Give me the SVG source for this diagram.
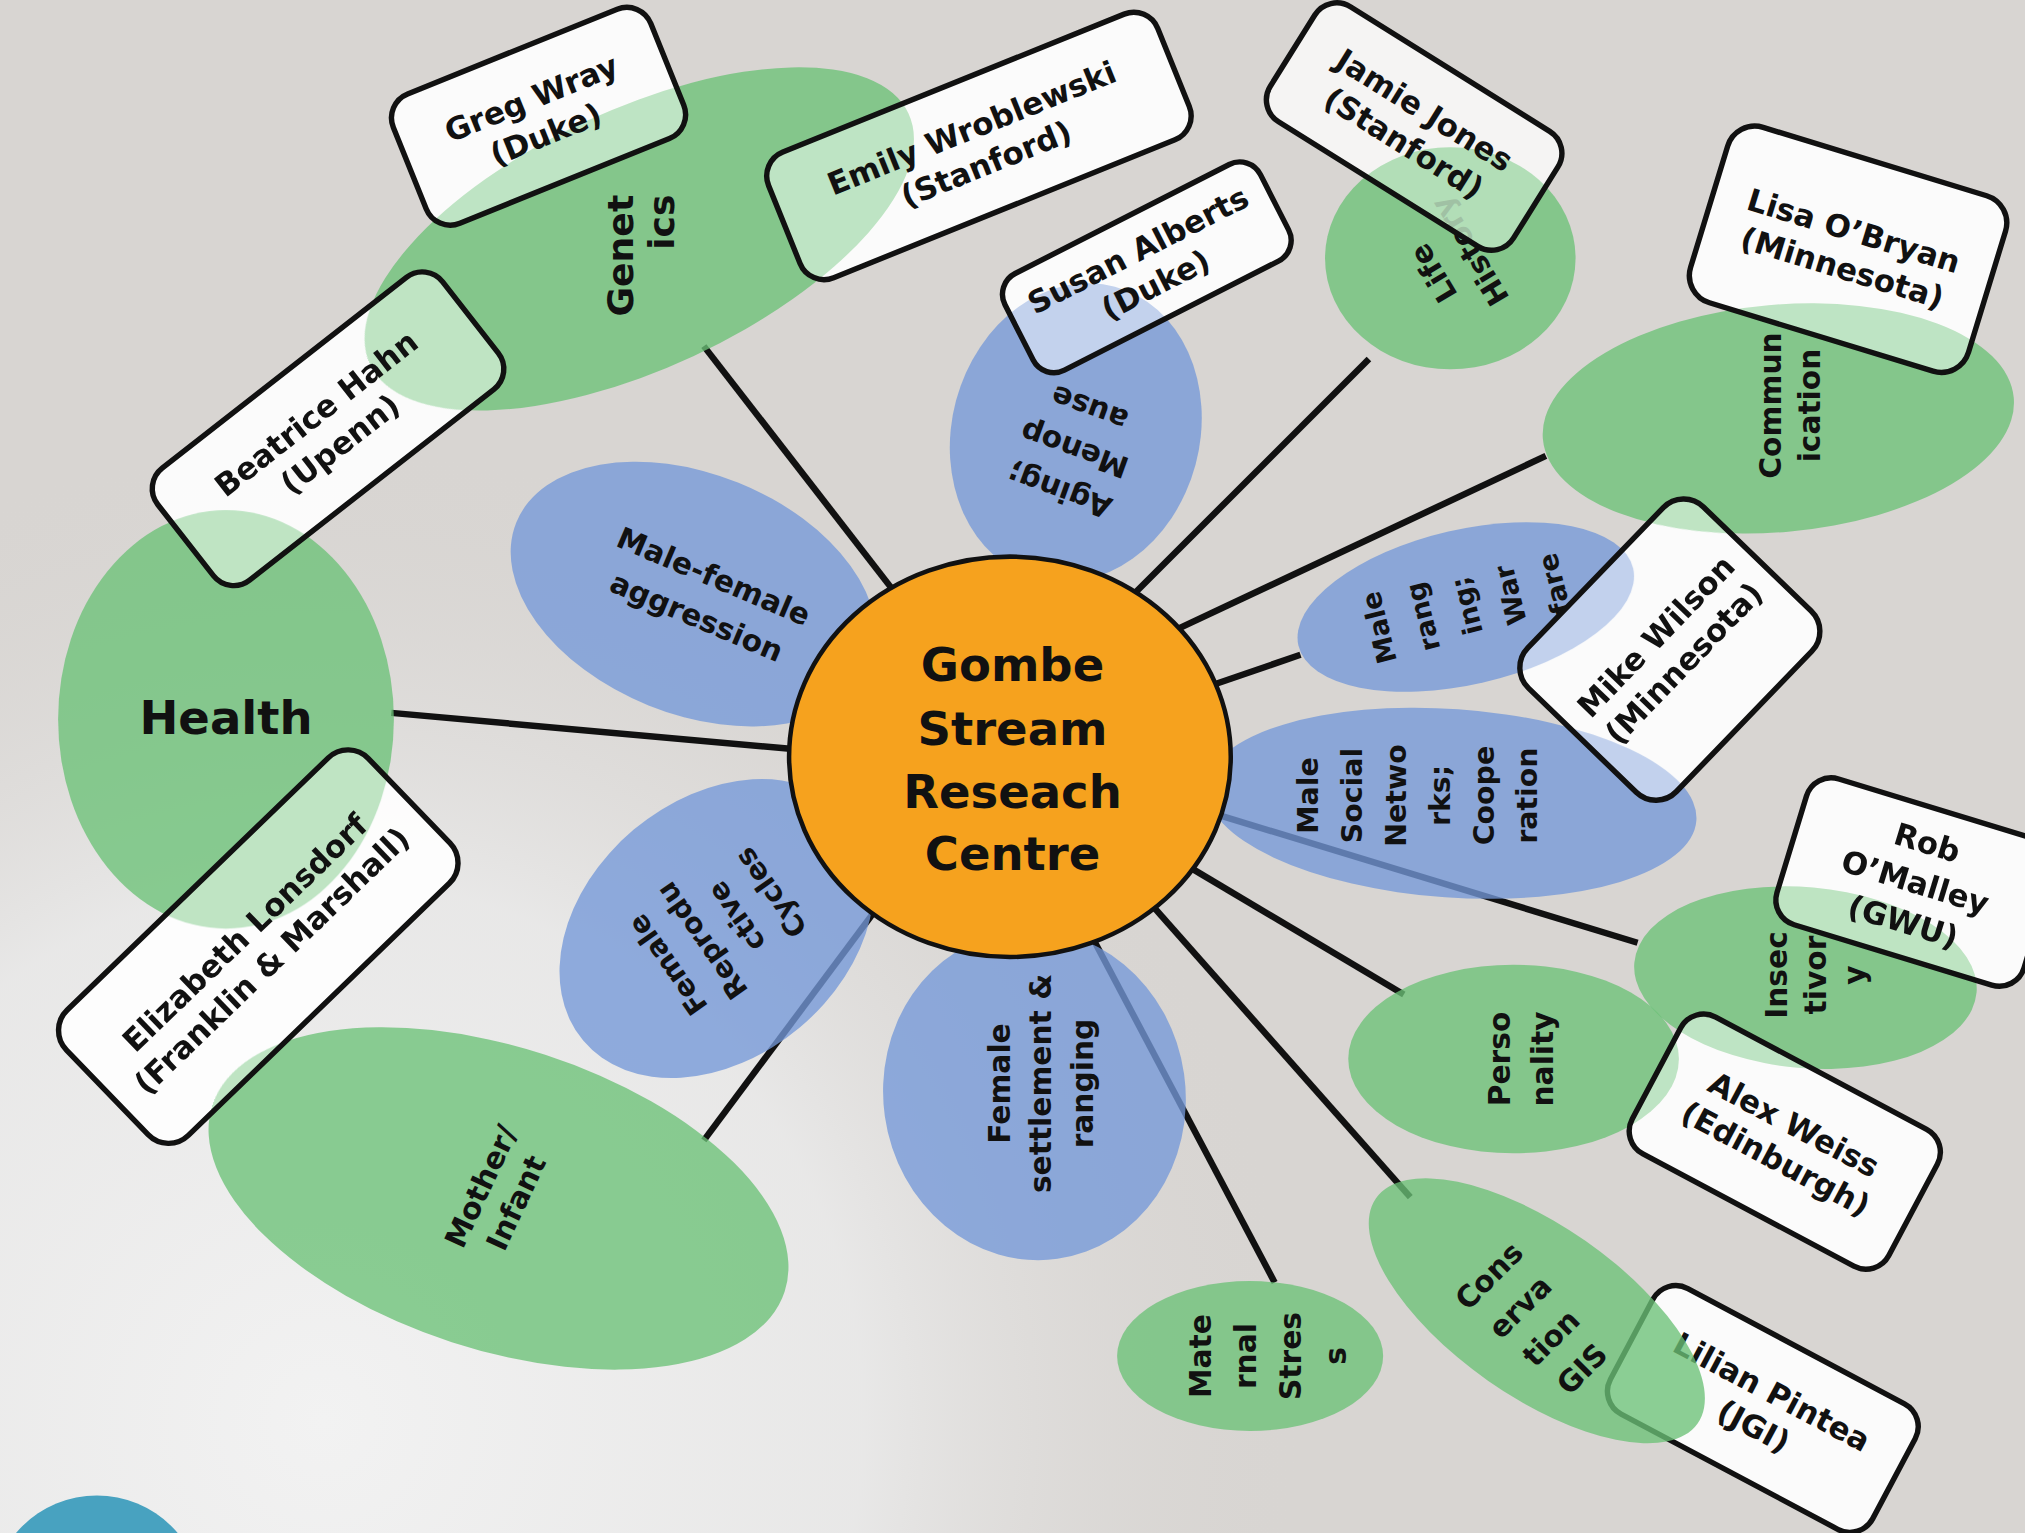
<svg xmlns="http://www.w3.org/2000/svg" xmlns:xlink="http://www.w3.org/1999/xlink" width="2025" height="1533" viewBox="0 0 2025 1533">
<style>
.ln{stroke:#111;stroke-width:5;fill:none}
.g{fill:#6cc277;fill-opacity:.78}
.b{fill:#7498d8;fill-opacity:.78}
.bf{fill:#fff;fill-opacity:.9;stroke:none}
.bs{fill:none;stroke:#111;stroke-width:4.2}
.ov{opacity:.5}
.t{font-family:"DejaVu Sans","Liberation Sans",sans-serif;font-weight:bold;font-size:23px;fill:#111;text-anchor:middle}
.p{font-family:"DejaVu Sans","Liberation Sans",sans-serif;font-weight:bold;font-size:24px;fill:#111;text-anchor:middle}
.c{font-family:"DejaVu Sans","Liberation Sans",sans-serif;font-weight:bold;font-size:36px;fill:#111;text-anchor:middle}
</style>
<defs>
<radialGradient id="glow" gradientUnits="userSpaceOnUse" cx="250" cy="1100" r="760">
<stop offset="0" stop-color="#f2f2f2" stop-opacity="1"/>
<stop offset="0.55" stop-color="#ebebeb" stop-opacity="0.85"/>
<stop offset="1" stop-color="#d8d5d2" stop-opacity="0"/>
</radialGradient>
<ellipse id="e-gen" cx="495" cy="185" rx="230" ry="100" transform="rotate(-25 495 185)"/>
<ellipse id="e-health" cx="175" cy="557" rx="130" ry="162"/>
<ellipse id="e-mother" cx="386" cy="928" rx="233" ry="117" transform="rotate(18 386 928)"/>
<ellipse id="e-mat" cx="968" cy="1050" rx="103" ry="58"/>
<ellipse id="e-cons" cx="1190" cy="1015" rx="152" ry="66" transform="rotate(35 1190 1015)"/>
<ellipse id="e-pers" cx="1172" cy="820" rx="128" ry="73"/>
<ellipse id="e-insec" cx="1398" cy="757" rx="133" ry="70" transform="rotate(5 1398 757)"/>
<ellipse id="e-comm" cx="1377" cy="324" rx="183" ry="88" transform="rotate(-5 1377 324)"/>
<ellipse id="e-life" cx="1123" cy="200" rx="97" ry="86"/>
<ellipse id="e-agg" cx="537" cy="460" rx="148" ry="93" transform="rotate(22 537 460)"/>
<ellipse id="e-aging" cx="833" cy="335" rx="96" ry="117" transform="rotate(15 833 335)"/>
<ellipse id="e-range" cx="1135" cy="470" rx="133" ry="60" transform="rotate(-13 1135 470)"/>
<ellipse id="e-social" cx="1124" cy="622" rx="190" ry="73" transform="rotate(4 1124 622)"/>
<ellipse id="e-repro" cx="555" cy="719" rx="135" ry="100" transform="rotate(-40 555 719)"/>
<ellipse id="e-settle" cx="801" cy="848" rx="117" ry="128" transform="rotate(-8 801 848)"/>
<rect id="r-greg" x="-107.5" y="-54" width="215" height="108" rx="20" transform="translate(417 90) rotate(-22)"/>
<rect id="r-beat" x="-140" y="-55" width="280" height="110" rx="20" transform="translate(254 332) rotate(-38)"/>
<rect id="r-emily" x="-162.5" y="-52.5" width="325" height="105" rx="20" transform="translate(758 113) rotate(-22)"/>
<rect id="r-susan" x="-111" y="-42" width="222" height="84" rx="18" transform="translate(888 207) rotate(-27)"/>
<rect id="r-jamie" x="-111" y="-52.5" width="222" height="105" rx="20" transform="translate(1095 98) rotate(32)"/>
<rect id="r-lisa" x="-112.5" y="-71" width="225" height="142" rx="22" transform="translate(1431 193) rotate(17)"/>
<rect id="r-mike" x="-97.5" y="-80" width="195" height="160" rx="22" transform="translate(1293 503) rotate(-46)"/>
<rect id="r-rob" x="-100" y="-59" width="200" height="118" rx="20" transform="translate(1483 683) rotate(17)"/>
<rect id="r-alex" x="-112.5" y="-60" width="225" height="120" rx="20" transform="translate(1382 884) rotate(28)"/>
<rect id="r-lilian" x="-115" y="-55" width="230" height="110" rx="20" transform="translate(1365 1091) rotate(28)"/>
<rect id="r-eliz" x="-162.5" y="-67.5" width="325" height="135" rx="22" transform="translate(200 733) rotate(-44)"/>
<clipPath id="c-greg"><use xlink:href="#r-greg"/></clipPath>
<clipPath id="c-beat"><use xlink:href="#r-beat"/></clipPath>
<clipPath id="c-emily"><use xlink:href="#r-emily"/></clipPath>
<clipPath id="c-susan"><use xlink:href="#r-susan"/></clipPath>
<clipPath id="c-jamie"><use xlink:href="#r-jamie"/></clipPath>
<clipPath id="c-lisa"><use xlink:href="#r-lisa"/></clipPath>
<clipPath id="c-mike"><use xlink:href="#r-mike"/></clipPath>
<clipPath id="c-rob"><use xlink:href="#r-rob"/></clipPath>
<clipPath id="c-alex"><use xlink:href="#r-alex"/></clipPath>
<clipPath id="c-eliz"><use xlink:href="#r-eliz"/></clipPath>
</defs>
<g transform="scale(1.29145)">
<rect x="0" y="0" width="1568" height="1188" fill="#d8d5d2"/>
<rect x="0" y="0" width="1568" height="1188" fill="url(#glow)"/>
<circle cx="75" cy="1240" r="82" fill="#48a2c0"/>

<g id="connectors">
<line class="ln" x1="545" y1="268" x2="690" y2="455"/>
<line class="ln" x1="303" y1="552" x2="614" y2="580"/>
<line class="ln" x1="545" y1="883" x2="683" y2="698"/>
<line class="ln" x1="987" y1="993" x2="848" y2="730"/>
<line class="ln" x1="1092" y1="927" x2="893" y2="702"/>
<line class="ln" x1="1087" y1="770" x2="922" y2="672"/>
<line class="ln" x1="1268" y1="730" x2="940" y2="630"/>
<line class="ln" x1="1007" y1="507" x2="940" y2="530"/>
<line class="ln" x1="1197" y1="353" x2="912" y2="487"/>
<line class="ln" x1="1060" y1="278" x2="878" y2="460"/>
</g>

<g id="genetics"><use xlink:href="#e-gen" class="g"/>
<text class="t" style="font-size:28px" transform="translate(496 185) rotate(-90)"><tspan x="-13" y="-6">Genet</tspan><tspan x="13" y="26">ics</tspan></text></g>
<g id="health"><use xlink:href="#e-health" class="g"/>
<text class="c" x="175" y="568">Health</text></g>
<g id="mother-infant"><use xlink:href="#e-mother" class="g"/>
<text class="t" transform="translate(386 925) rotate(-65)"><tspan x="0" y="-7">Mother/</tspan><tspan x="0" y="23">Infant</tspan></text></g>
<g id="maternal-stress"><use xlink:href="#e-mat" class="g"/>
<text class="t" transform="translate(982 1050) rotate(-90)"><tspan x="0" y="-44.5">Mate</tspan><tspan x="0" y="-9.5">rnal</tspan><tspan x="0" y="25.5">Stres</tspan><tspan x="0" y="60.5">s</tspan></text></g>
<g id="personality"><use xlink:href="#e-pers" class="g"/>
<text class="t" transform="translate(1178 820) rotate(-90)"><tspan x="0" y="-8.5">Perso</tspan><tspan x="0" y="24.5">nality</tspan></text></g>
<g id="insectivory"><use xlink:href="#e-insec" class="g"/>
<text class="t" transform="translate(1406 755) rotate(-90)"><tspan x="0" y="-22">Insec</tspan><tspan x="0" y="8">tivor</tspan><tspan x="0" y="38">y</tspan></text></g>
<g id="communication"><use xlink:href="#e-comm" class="g"/>
<text class="t" transform="translate(1386 314) rotate(-90)"><tspan x="0" y="-7">Commun</tspan><tspan x="0" y="23">ication</tspan></text></g>
<g id="life-history"><use xlink:href="#e-life" class="g"/>
<text class="t" transform="translate(1124 203) rotate(239)"><tspan x="0" y="-8.5">Life</tspan><tspan x="0" y="24.5">History</tspan></text></g>

<g id="male-female-aggression"><use xlink:href="#e-agg" class="b"/>
<text class="t" transform="translate(546 462) rotate(23)"><tspan x="0" y="-9">Male-female</tspan><tspan x="0" y="25">aggression</tspan></text></g>
<g id="aging-menopause"><use xlink:href="#e-aging" class="b"/>
<text class="t" transform="translate(832 348) rotate(200)"><tspan x="0" y="-26">Aging;</tspan><tspan x="0" y="8">Menop</tspan><tspan x="0" y="42">ause</tspan></text></g>
<g id="male-ranging-warfare"><use xlink:href="#e-range" class="b"/>
<text class="t" style="font-size:21px" transform="translate(1136 469) rotate(-104)"><tspan x="0" y="-63">Male</tspan><tspan x="0" y="-28">rang</tspan><tspan x="0" y="7">ing;</tspan><tspan x="0" y="42">War</tspan><tspan x="0" y="77">fare</tspan></text></g>
<g id="male-social-networks"><use xlink:href="#e-social" class="b"/>
<text class="t" style="font-size:22px" transform="translate(1098 616) rotate(-90)"><tspan x="0" y="-77.5">Male</tspan><tspan x="0" y="-43.5">Social</tspan><tspan x="0" y="-9.5">Netwo</tspan><tspan x="0" y="24.5">rks;</tspan><tspan x="0" y="58.5">Coope</tspan><tspan x="0" y="92.5">ration</tspan></text></g>
<g id="female-reproductive-cycles"><use xlink:href="#e-repro" class="b"/>
<text class="t" style="font-size:22px" transform="translate(557 719) rotate(235)"><tspan x="0" y="-41.25">Female</tspan><tspan x="0" y="-8.75">Reprodu</tspan><tspan x="0" y="23.75">ctive</tspan><tspan x="0" y="56.25">Cycles</tspan></text></g>
<g id="female-settlement-ranging"><use xlink:href="#e-settle" class="b"/>
<text class="t" transform="translate(806 839) rotate(-90)"><tspan x="0" y="-24">Female</tspan><tspan x="0" y="8">settlement &amp;</tspan><tspan x="0" y="40">ranging</tspan></text></g>

<g id="centre">
<ellipse cx="782" cy="586" rx="171" ry="155" fill="#f6a21e" stroke="#111" stroke-width="3.5"/>
<text class="c" x="784" y="527">Gombe</text>
<text class="c" x="784" y="577">Stream</text>
<text class="c" x="784" y="626">Reseach</text>
<text class="c" x="784" y="674">Centre</text>
</g>

<g id="greg-wray"><use xlink:href="#r-greg" class="bf"/>
<g clip-path="url(#c-greg)" class="ov"><use xlink:href="#e-gen" class="g"/></g>
<use xlink:href="#r-greg" class="bs"/>
<text class="p" transform="translate(417 90) rotate(-22)"><tspan x="0" y="-6.5">Greg Wray</tspan><tspan x="0" y="23.5">(Duke)</tspan></text></g>

<g id="beatrice-hahn"><use xlink:href="#r-beat" class="bf"/>
<g clip-path="url(#c-beat)" class="ov"><use xlink:href="#e-gen" class="g"/><use xlink:href="#e-health" class="g"/></g>
<use xlink:href="#r-beat" class="bs"/>
<text class="p" transform="translate(254 332) rotate(-38)"><tspan x="0" y="-6.5">Beatrice Hahn</tspan><tspan x="0" y="23.5">(Upenn)</tspan></text></g>

<g id="emily-wroblewski"><use xlink:href="#r-emily" class="bf"/>
<g clip-path="url(#c-emily)" class="ov"><use xlink:href="#e-gen" class="g"/></g>
<use xlink:href="#r-emily" class="bs"/>
<text class="p" transform="translate(758 113) rotate(-22)"><tspan x="0" y="-6.5">Emily Wroblewski</tspan><tspan x="0" y="23.5">(Stanford)</tspan></text></g>

<g id="susan-alberts"><use xlink:href="#r-susan" class="bf"/>
<g clip-path="url(#c-susan)" class="ov"><use xlink:href="#e-aging" class="b"/></g>
<use xlink:href="#r-susan" class="bs"/>
<text class="p" transform="translate(888 207) rotate(-27)"><tspan x="0" y="-6.5">Susan Alberts</tspan><tspan x="0" y="23.5">(Duke)</tspan></text></g>

<g id="jamie-jones"><use xlink:href="#r-jamie" class="bf" style="fill-opacity:.74"/>
<g clip-path="url(#c-jamie)" class="ov"><use xlink:href="#e-life" class="g"/></g>
<use xlink:href="#r-jamie" class="bs"/>
<text class="p" transform="translate(1095 98) rotate(32)"><tspan x="0" y="-6.5">Jamie Jones</tspan><tspan x="0" y="23.5">(Stanford)</tspan></text></g>

<g id="lisa-obryan"><use xlink:href="#r-lisa" class="bf"/>
<g clip-path="url(#c-lisa)" class="ov"><use xlink:href="#e-comm" class="g"/></g>
<use xlink:href="#r-lisa" class="bs"/>
<text class="p" transform="translate(1431 193) rotate(17)"><tspan x="0" y="-6.5">Lisa O’Bryan</tspan><tspan x="0" y="23.5">(Minnesota)</tspan></text></g>

<g id="mike-wilson"><use xlink:href="#r-mike" class="bf"/>
<g clip-path="url(#c-mike)" class="ov"><use xlink:href="#e-comm" class="g"/><use xlink:href="#e-range" class="b"/><use xlink:href="#e-social" class="b"/></g>
<use xlink:href="#r-mike" class="bs"/>
<text class="p" transform="translate(1293 503) rotate(-46)"><tspan x="0" y="-6.5">Mike Wilson</tspan><tspan x="0" y="23.5">(Minnesota)</tspan></text></g>

<g id="rob-omalley"><use xlink:href="#r-rob" class="bf"/>
<g clip-path="url(#c-rob)" class="ov"><use xlink:href="#e-insec" class="g"/></g>
<use xlink:href="#r-rob" class="bs"/>
<text class="p" transform="translate(1483 683) rotate(17)"><tspan x="0" y="-23.5">Rob</tspan><tspan x="0" y="8.5">O’Malley</tspan><tspan x="0" y="40.5">(GWU)</tspan></text></g>

<g id="alex-weiss"><use xlink:href="#r-alex" class="bf"/>
<g clip-path="url(#c-alex)" class="ov"><use xlink:href="#e-pers" class="g"/><use xlink:href="#e-insec" class="g"/></g>
<use xlink:href="#r-alex" class="bs"/>
<text class="p" transform="translate(1382 884) rotate(28)"><tspan x="0" y="-6.5">Alex Weiss</tspan><tspan x="0" y="23.5">(Edinburgh)</tspan></text></g>

<g id="elizabeth-lonsdorf"><use xlink:href="#r-eliz" class="bf"/>
<g clip-path="url(#c-eliz)" class="ov"><use xlink:href="#e-health" class="g"/><use xlink:href="#e-mother" class="g"/></g>
<use xlink:href="#r-eliz" class="bs"/>
<text class="p" transform="translate(200 733) rotate(-44)"><tspan x="0" y="-6.5">Elizabeth Lonsdorf</tspan><tspan x="0" y="23.5">(Franklin &amp; Marshall)</tspan></text></g>

<g id="lilian-pintea"><use xlink:href="#r-lilian" class="bf"/>
<use xlink:href="#r-lilian" class="bs"/>
<text class="p" transform="translate(1365 1091) rotate(28)"><tspan x="0" y="-6.5">Lilian Pintea</tspan><tspan x="0" y="23.5">(JGI)</tspan></text></g>

<g id="conservation-gis"><use xlink:href="#e-cons" class="g"/>
<text class="t" transform="translate(1189 1024) rotate(-45)"><tspan x="0" y="-43">Cons</tspan><tspan x="0" y="-9">erva</tspan><tspan x="0" y="25">tion</tspan><tspan x="0" y="59">GIS</tspan></text></g>
</g>
</svg>
